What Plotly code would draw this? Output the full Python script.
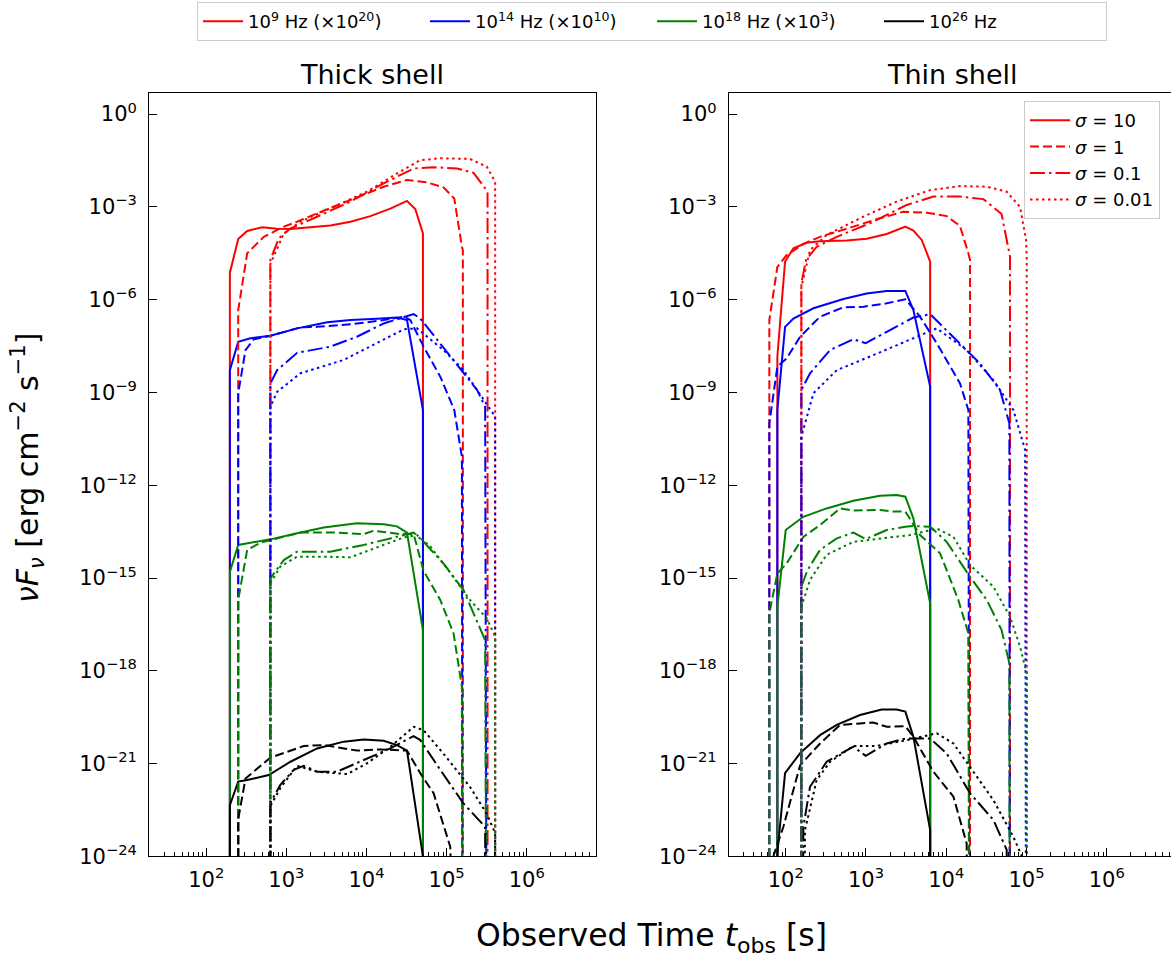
import numpy as np
import plotly.graph_objects as go

# ---------------------------------------------------------------------------
# Light curves, stored as log10 values:
#   *_lt : log10(t_obs / s)
#   *_lf : log10(nu F_nu / erg cm^-2 s^-1)   (already multiplied by the
#          per-band factor given in the legend)
# A value of -40 stands for "flux switched off" (far below the plotted range).
# Bands: f9 = 1e9 Hz, f14 = 1e14 Hz, f18 = 1e18 Hz, f26 = 1e26 Hz
# Magnetisation: s10 = 10, s1 = 1, s01 = 0.1, s001 = 0.01
# ---------------------------------------------------------------------------

# ----- Thick shell ---------------------------------------------------------
thick_s10_f9_lt = [2.295, 2.295, 2.399, 2.511, 2.698, 2.885, 3.051, 3.30, 3.549, 3.80, 4.048, 4.297, 4.505, 4.608, 4.704, 4.704]
thick_s10_f9_lf = [-40, -5.13, -4.04, -3.78, -3.66, -3.71, -3.72, -3.67, -3.60, -3.48, -3.30, -3.06, -2.81, -3.07, -3.86, -40]
thick_s1_f9_lt = [2.399, 2.399, 2.511, 2.719, 2.968, 3.134, 3.383, 3.80, 4.214, 4.505, 4.754, 4.96, 5.095, 5.19, 5.202, 5.202]
thick_s1_f9_lf = [-40, -6.34, -4.50, -3.97, -3.64, -3.48, -3.21, -2.78, -2.35, -2.13, -2.21, -2.37, -2.73, -4.29, -4.40, -40]
thick_s01_f9_lt = [2.80, 2.80, 2.905, 3.051, 3.383, 3.80, 4.214, 4.588, 4.837, 5.128, 5.336, 5.48, 5.51, 5.51]
thick_s01_f9_lf = [-40, -4.72, -4.02, -3.70, -3.32, -2.83, -2.24, -1.76, -1.72, -1.76, -1.90, -2.40, -2.56, -40]
thick_s001_f9_lt = [2.80, 2.80, 2.968, 3.175, 3.59, 4.006, 4.42, 4.67, 4.92, 5.29, 5.50, 5.605, 5.605]
thick_s001_f9_lf = [-40, -4.85, -3.86, -3.48, -3.00, -2.51, -1.86, -1.49, -1.43, -1.45, -1.70, -2.19, -40]

thick_s10_f14_lt = [2.295, 2.295, 2.399, 2.552, 2.80, 3.134, 3.51, 3.80, 4.13, 4.38, 4.505, 4.704, 4.704]
thick_s10_f14_lf = [-40, -8.28, -7.36, -7.25, -7.17, -6.93, -6.73, -6.66, -6.62, -6.58, -6.66, -9.57, -40]
thick_s1_f14_lt = [2.399, 2.399, 2.49, 2.594, 2.80, 3.175, 3.383, 3.80, 4.214, 4.464, 4.546, 4.712, 4.92, 5.095, 5.19, 5.202]
thick_s1_f14_lf = [-40, -9.03, -7.63, -7.28, -7.17, -6.90, -6.88, -6.80, -6.66, -6.55, -6.66, -7.52, -8.49, -9.57, -11.08, -40]
thick_s01_f14_lt = [2.80, 2.80, 2.885, 3.134, 3.549, 3.88, 4.214, 4.505, 4.588, 4.671, 4.92, 5.17, 5.38, 5.48, 5.51]
thick_s01_f14_lf = [-40, -8.71, -8.28, -7.72, -7.52, -7.20, -6.77, -6.53, -6.47, -6.61, -7.41, -8.22, -8.92, -9.46, -40]
thick_s001_f14_lt = [2.80, 2.80, 2.885, 3.175, 3.716, 4.13, 4.464, 4.63, 4.96, 5.21, 5.46, 5.605, 5.605]
thick_s001_f14_lf = [-40, -9.46, -8.98, -8.38, -7.95, -7.41, -6.96, -6.93, -7.63, -8.28, -9.25, -9.78, -40]

thick_s10_f18_lt = [2.295, 2.295, 2.399, 2.552, 2.80, 3.134, 3.466, 3.88, 4.214, 4.38, 4.505, 4.704, 4.704]
thick_s10_f18_lf = [-40, -14.80, -13.93, -13.86, -13.75, -13.55, -13.37, -13.23, -13.26, -13.33, -13.53, -16.68, -40]
thick_s1_f18_lt = [2.399, 2.399, 2.511, 2.677, 3.175, 3.59, 3.965, 4.09, 4.42, 4.588, 4.712, 4.92, 5.086, 5.19, 5.202]
thick_s1_f18_lf = [-40, -15.71, -14.09, -13.86, -13.53, -13.53, -13.58, -13.47, -13.58, -13.58, -14.77, -15.71, -16.79, -18.52, -40]
thick_s01_f18_lt = [2.80, 2.80, 2.968, 3.134, 3.549, 3.965, 4.297, 4.505, 4.588, 4.712, 4.96, 5.21, 5.48, 5.51]
thick_s01_f18_lf = [-40, -15.01, -14.42, -14.15, -14.15, -13.93, -13.72, -13.58, -13.53, -13.83, -14.53, -15.39, -17.01, -40]
thick_s001_f18_lt = [2.80, 2.80, 2.925, 3.134, 3.466, 3.80, 4.13, 4.464, 4.63, 4.80, 5.05, 5.29, 5.50, 5.605, 5.605]
thick_s001_f18_lf = [-40, -15.17, -14.63, -14.31, -14.31, -14.33, -14.01, -13.69, -13.61, -13.99, -14.85, -15.71, -16.30, -16.90, -40]

thick_s10_f26_lt = [2.295, 2.295, 2.399, 2.511, 2.78, 3.051, 3.383, 3.716, 3.965, 4.214, 4.38, 4.505, 4.704, 4.704]
thick_s10_f26_lf = [-40, -22.34, -21.58, -21.53, -21.37, -20.94, -20.51, -20.29, -20.22, -20.26, -20.40, -20.58, -24.0, -40]
thick_s1_f26_lt = [2.399, 2.399, 2.49, 2.80, 3.217, 3.466, 3.88, 4.172, 4.505, 4.671, 4.837, 5.045, 5.202]
thick_s1_f26_lf = [-40, -22.8, -21.48, -20.81, -20.43, -20.40, -20.58, -20.54, -20.58, -21.31, -21.96, -23.69, -40]
thick_s01_f26_lt = [2.80, 2.80, 2.925, 3.092, 3.217, 3.383, 3.632, 3.965, 4.297, 4.588, 4.671, 4.92, 5.21, 5.48, 5.51]
thick_s01_f26_lf = [-40, -22.26, -21.69, -21.20, -21.07, -21.26, -21.26, -20.88, -20.51, -20.11, -20.24, -21.20, -22.29, -23.04, -40]
thick_s001_f26_lt = [2.80, 2.80, 2.925, 3.134, 3.383, 3.757, 4.006, 4.297, 4.588, 4.712, 4.96, 5.29, 5.50, 5.605, 5.605]
thick_s001_f26_lf = [-40, -22.37, -21.79, -21.07, -21.26, -21.34, -20.99, -20.46, -19.81, -19.92, -20.68, -21.75, -22.62, -23.25, -40]

# ----- Thin shell ----------------------------------------------------------
thin_s10_f9_lt = [1.896, 1.896, 1.992, 2.096, 2.262, 2.428, 2.76, 3.009, 3.259, 3.383, 3.491, 3.591, 3.695, 3.80, 3.80]
thin_s10_f9_lf = [-40, -7.84, -4.77, -4.34, -4.16, -4.11, -4.09, -4.03, -3.88, -3.75, -3.64, -3.77, -4.07, -4.77, -40]
thin_s1_f9_lt = [1.796, 1.796, 1.896, 2.012, 2.22, 2.428, 2.843, 3.175, 3.466, 3.757, 4.006, 4.172, 4.276, 4.297, 4.297]
thin_s1_f9_lf = [-40, -6.66, -4.94, -4.56, -4.20, -3.97, -3.64, -3.37, -3.16, -3.19, -3.30, -3.62, -4.50, -4.72, -40]
thin_s01_f9_lt = [2.195, 2.195, 2.253, 2.386, 2.636, 3.05, 3.508, 3.84, 4.172, 4.463, 4.69, 4.787, 4.795, 4.795]
thin_s01_f9_lf = [-40, -5.47, -4.72, -4.29, -3.97, -3.53, -2.94, -2.67, -2.67, -2.75, -3.23, -4.40, -4.61, -40]
thin_s001_f9_lt = [2.195, 2.195, 2.303, 2.51, 2.926, 3.383, 3.80, 4.172, 4.505, 4.754, 4.92, 4.995, 5.003, 5.003]
thin_s001_f9_lf = [-40, -5.6, -4.40, -3.91, -3.37, -2.83, -2.46, -2.33, -2.35, -2.51, -3.00, -4.07, -4.61, -40]

thin_s10_f14_lt = [1.896, 1.896, 1.992, 2.096, 2.345, 2.719, 3.009, 3.259, 3.491, 3.591, 3.80, 3.80]
thin_s10_f14_lf = [-40, -9.57, -6.88, -6.61, -6.28, -5.98, -5.80, -5.72, -5.72, -6.34, -8.81, -40]
thin_s1_f14_lt = [1.796, 1.796, 1.896, 2.012, 2.18, 2.428, 2.719, 2.968, 3.259, 3.491, 3.674, 3.882, 4.172, 4.276, 4.297]
thin_s1_f14_lf = [-40, -10.0, -8.17, -7.90, -7.20, -6.55, -6.25, -6.23, -6.12, -5.99, -6.55, -7.41, -8.71, -9.57, -40]
thin_s01_f14_lt = [2.195, 2.195, 2.303, 2.553, 2.843, 2.997, 3.259, 3.591, 3.80, 4.09, 4.42, 4.67, 4.787, 4.795]
thin_s01_f14_lf = [-40, -8.92, -8.38, -7.63, -7.28, -7.41, -7.04, -6.58, -6.47, -7.20, -8.06, -8.92, -10.0, -40]
thin_s001_f14_lt = [2.195, 2.195, 2.345, 2.636, 3.05, 3.591, 3.882, 4.255, 4.588, 4.837, 4.983, 5.003]
thin_s001_f14_lf = [-40, -10.43, -9.03, -8.28, -7.84, -7.25, -6.93, -7.63, -8.60, -9.57, -10.86, -40]

thin_s10_f18_lt = [1.896, 1.896, 2.0, 2.22, 2.51, 2.843, 3.175, 3.383, 3.491, 3.591, 3.80, 3.80]
thin_s10_f18_lf = [-40, -15.93, -13.45, -13.02, -12.75, -12.50, -12.34, -12.32, -12.37, -13.07, -15.82, -40]
thin_s1_f18_lt = [1.796, 1.796, 1.896, 2.012, 2.22, 2.428, 2.677, 2.843, 3.175, 3.342, 3.491, 3.674, 3.923, 4.151, 4.276, 4.297]
thin_s1_f18_lf = [-40, -16.14, -14.85, -14.53, -13.67, -13.29, -12.75, -12.82, -12.80, -12.85, -12.85, -13.61, -14.20, -15.71, -16.79, -40]
thin_s01_f18_lt = [2.195, 2.195, 2.27, 2.428, 2.636, 2.843, 2.997, 3.259, 3.491, 3.591, 3.80, 4.006, 4.297, 4.505, 4.69, 4.787, 4.795]
thin_s01_f18_lf = [-40, -15.28, -14.75, -14.09, -13.72, -13.53, -13.74, -13.45, -13.34, -13.32, -13.34, -13.83, -14.96, -15.71, -16.68, -17.76, -40]
thin_s001_f18_lt = [2.195, 2.195, 2.303, 2.51, 2.843, 3.175, 3.55, 3.882, 4.09, 4.297, 4.588, 4.795, 4.92, 5.003, 5.003]
thin_s001_f18_lf = [-40, -15.93, -15.06, -14.25, -13.83, -13.72, -13.61, -13.40, -13.67, -14.58, -15.28, -16.25, -17.22, -18.08, -40]

thin_s10_f26_lt = [1.896, 1.896, 1.992, 2.18, 2.428, 2.636, 2.926, 3.196, 3.383, 3.491, 3.591, 3.80, 3.80]
thin_s10_f26_lf = [-40, -23.9, -21.31, -20.66, -20.08, -19.75, -19.43, -19.25, -19.25, -19.32, -20.13, -23.15, -40]
thin_s1_f26_lt = [1.796, 1.846, 1.971, 2.18, 2.428, 2.677, 2.926, 3.092, 3.259, 3.491, 3.591, 3.84, 4.09, 4.255, 4.297]
thin_s1_f26_lf = [-40, -24.0, -23.04, -21.05, -20.35, -19.75, -19.70, -19.67, -19.81, -19.79, -20.13, -21.26, -22.07, -23.58, -40]
thin_s01_f26_lt = [2.195, 2.22, 2.303, 2.51, 2.843, 2.997, 3.259, 3.491, 3.80, 4.006, 4.297, 4.588, 4.754, 4.795]
thin_s01_f26_lf = [-40, -23.04, -21.75, -20.94, -20.45, -20.75, -20.35, -20.19, -20.19, -20.67, -21.96, -22.82, -23.79, -40]
thin_s001_f26_lt = [2.195, 2.24, 2.386, 2.553, 2.843, 3.134, 3.508, 3.882, 4.09, 4.338, 4.588, 4.837, 4.96, 5.003]
thin_s001_f26_lf = [-40, -23.15, -21.53, -20.94, -20.43, -20.43, -20.24, -20.02, -20.35, -21.26, -22.18, -23.37, -24.1, -40]

# ----- Labels --------------------------------------------------------------
band_keys = ["f9", "f14", "f18", "f26"]
band_labels = ["10<sup>9</sup> Hz (×10<sup>20</sup>)", "10<sup>14</sup> Hz (×10<sup>10</sup>)",
               "10<sup>18</sup> Hz (×10<sup>3</sup>)", "10<sup>26</sup> Hz"]
sigma_keys = ["s10", "s1", "s01", "s001"]
sigma_labels = ["<i>σ</i> = 10", "<i>σ</i> = 1", "<i>σ</i> = 0.1", "<i>σ</i> = 0.01"]
panel_keys = ["thick", "thin"]
panel_titles = ["Thick shell", "Thin shell"]
x_tick_exps = [2, 3, 4, 5, 6]
y_tick_exps = [0, -3, -6, -9, -12, -15, -18, -21, -24]

# ----- Styles --------------------------------------------------------------
band_colors = ["#ff0000", "#0000ff", "#008000", "#000000"]
sigma_dash = ["solid", "9px,4px", "15px,4px,2.5px,4px", "2.5px,3.5px"]
LW = 2.0

W, H = 1171, 959
FONT = "DejaVu Sans"

data = globals()
fig = go.Figure()

axis_ids = [("x", "y"), ("x2", "y2")]
for p, pk in enumerate(panel_keys):
    xa, ya = axis_ids[p]
    for s, sk in enumerate(sigma_keys):
        for b, bk in enumerate(band_keys):
            lt = np.array(data[f"{pk}_{sk}_{bk}_lt"], dtype=float)
            lf = np.array(data[f"{pk}_{sk}_{bk}_lf"], dtype=float)
            fig.add_trace(go.Scatter(
                x=10.0 ** lt, y=10.0 ** lf, mode="lines",
                line=dict(color=band_colors[b], width=LW, dash=sigma_dash[s]),
                xaxis=xa, yaxis=ya, showlegend=False, hoverinfo="skip"))

# legend entries: frequency bands (top) and magnetisation (right panel)
for b, lab in enumerate(band_labels):
    fig.add_trace(go.Scatter(x=[None], y=[None], mode="lines", name=lab,
                             line=dict(color=band_colors[b], width=LW),
                             xaxis="x", yaxis="y", legend="legend"))
for s, lab in enumerate(sigma_labels):
    fig.add_trace(go.Scatter(x=[None], y=[None], mode="lines", name=lab,
                             line=dict(color="#ff0000", width=LW, dash=sigma_dash[s]),
                             xaxis="x2", yaxis="y2", legend="legend2"))

# ----- Axes ----------------------------------------------------------------
x_major = [10.0 ** e for e in x_tick_exps]
x_text = [f"10<sup>{e}</sup>" for e in x_tick_exps]
x_minor = [m * 10.0 ** e for e in range(1, 7) for m in range(2, 10)]
y_major = [10.0 ** e for e in y_tick_exps]
y_text = [f"10<sup>{str(e).replace('-', '−')}</sup>" for e in y_tick_exps]

y_dom = [1 - 856.4 / H, 1 - 93 / H]
x_doms = [[149.3 / W, 595.5 / W], [729 / W, 1.0]]
x_ranges = [[1.2897, 6.857], [1.2935, 6.801]]

common_x = dict(type="log", showgrid=False, zeroline=False, showline=True,
                automargin=False,
                linecolor="black", linewidth=1.3, mirror=True,
                ticks="inside", ticklen=8, tickwidth=1.2, tickcolor="black",
                tickvals=x_major, ticktext=x_text,
                tickfont=dict(family=FONT, size=21, color="black"),
                ticklabelstandoff=4,
                minor=dict(ticks="inside", ticklen=4, tickwidth=1, tickcolor="black",
                           tickvals=x_minor, showgrid=False))
common_y = dict(type="log", range=[-24, 0.68], domain=y_dom, showgrid=False,
                automargin=False,
                zeroline=False, showline=True, linecolor="black", linewidth=1.3,
                ticks="inside", ticklen=8, tickwidth=1.2, tickcolor="black",
                tickvals=y_major, ticktext=y_text,
                tickfont=dict(family=FONT, size=21, color="black"),
                ticklabelstandoff=7)

fig.update_layout(
    xaxis=dict(common_x, domain=x_doms[0], range=x_ranges[0], anchor="y"),
    xaxis2=dict(common_x, domain=x_doms[1], range=x_ranges[1], anchor="y2"),
    yaxis=dict(common_y, anchor="x", mirror=True),
    yaxis2=dict(common_y, anchor="x2", mirror=False),
)

# ----- Titles and axis labels ------------------------------------------------
for p, title in enumerate(panel_titles):
    cx = [372, 952][p]
    fig.add_annotation(text=title, x=cx / W, y=1 - 74 / H, xref="paper", yref="paper",
                       xanchor="center", yanchor="middle", showarrow=False,
                       font=dict(family=FONT, size=27, color="black"))

fig.add_annotation(text="Observed Time <i>t</i><sub>obs</sub> [s]",
                   x=651 / W, y=1 - 937 / H, xref="paper", yref="paper",
                   xanchor="center", yanchor="middle", showarrow=False,
                   font=dict(family=FONT, size=31.5, color="black"))
fig.add_annotation(text="<i>νF</i><sub><i>ν</i></sub> [erg cm<sup>−2</sup> s<sup>−1</sup>]",
                   x=27 / W, y=1 - 468 / H, xref="paper", yref="paper",
                   xanchor="center", yanchor="middle", textangle=-90, showarrow=False,
                   font=dict(family=FONT, size=30, color="black"))

fig.update_layout(
    width=W, height=H,
    margin=dict(l=0, r=0, t=0, b=0, autoexpand=False),
    paper_bgcolor="white", plot_bgcolor="white",
    font=dict(family=FONT, color="black"),
    legend=dict(orientation="h", x=197 / W, xanchor="left", y=1 - 2 / H, yanchor="top",
                bgcolor="white", bordercolor="#cccccc", borderwidth=1,
                font=dict(family=FONT, size=18, color="black"),
                itemwidth=40, entrywidth=172, entrywidthmode="pixels"),
    legend2=dict(orientation="v", x=1024 / W, xanchor="left", y=1 - 101 / H, yanchor="top",
                 bgcolor="white", bordercolor="#cccccc", borderwidth=1,
                 font=dict(family=FONT, size=18, color="black"),
                 itemwidth=40, tracegroupgap=0),
)

fig.write_html("out.html")
